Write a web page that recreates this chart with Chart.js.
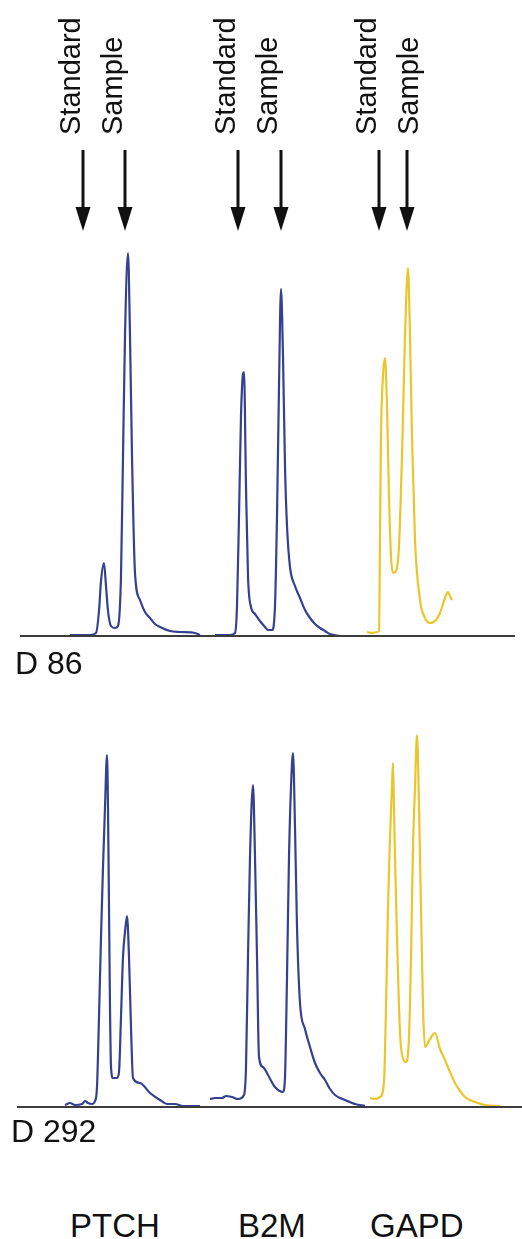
<!DOCTYPE html>
<html>
<head>
<meta charset="utf-8">
<script src="https://cdn.jsdelivr.net/npm/chart.js@4.4.1/dist/chart.umd.min.js"></script>
<style>
  html, body { margin: 0; padding: 0; background: #fff; }
  #page { position: relative; width: 522px; height: 1239px; overflow: hidden; font-family: "Liberation Sans", Arial, sans-serif; color: #111; }
  canvas { position: absolute; left: 0; }
  .lbl { position: absolute; line-height: 1; white-space: nowrap; }
  .rot { position: absolute; line-height: 1; white-space: nowrap; font-size: 29px; transform-origin: 0 0; transform: rotate(-90deg); }
  svg { position: absolute; left: 0; top: 0; }
</style>
</head>
<body>
<div id="page">
  <canvas id="topChart" width="522" height="660" style="top:0;width:522px;height:660px"></canvas>
  <canvas id="botChart" width="522" height="420" style="top:700px;width:522px;height:420px"></canvas>

  <!-- peak labels -->
  <div class="rot" style="left:56px;top:135px">Standard</div>
  <div class="rot" style="left:98px;top:135px">Sample</div>
  <div class="rot" style="left:211px;top:135px">Standard</div>
  <div class="rot" style="left:253px;top:135px">Sample</div>
  <div class="rot" style="left:352px;top:135px">Standard</div>
  <div class="rot" style="left:394px;top:135px">Sample</div>
  <svg id="arrows" width="522" height="260"></svg>

  <div class="lbl" style="left:15px;top:647px;font-size:32px">D 86</div>
  <div class="lbl" style="left:11px;top:1115px;font-size:32px">D 292</div>

  <div class="lbl" style="left:70px;top:1209px;font-size:33px">PTCH</div>
  <div class="lbl" style="left:238px;top:1209px;font-size:33px">B2M</div>
  <div class="lbl" style="left:370px;top:1209px;font-size:33px">GAPD</div>
</div>

<script>
// migration position (x) and signal above baseline (y)
const ptchD86X = [70, 90, 96, 99, 101, 104, 106, 108, 111, 115, 118, 121, 123, 125, 128, 130, 132, 135, 140, 145, 150, 155, 160, 170, 180, 195, 200];
const ptchD86Y = [1, 1, 3, 25, 55, 73, 50, 25, 10, 8, 10, 60, 180, 300, 383, 300, 180, 63, 36, 24, 18, 12, 9, 5, 4, 3, 1];
const b2mD86X = [215, 230, 235, 237, 239, 241, 243, 244, 246, 248, 251, 255, 260, 265, 268, 272, 275, 277, 279, 281, 283, 285, 287, 290, 295, 300, 305, 310, 315, 320, 325, 330, 340];
const b2mD86Y = [1, 1, 3, 30, 120, 220, 262, 264, 150, 60, 29, 22, 15, 9, 6, 6, 30, 120, 250, 347, 280, 170, 110, 69, 50, 38, 26, 18, 12, 8, 5, 2, 0];
const gapdD86X = [367, 372, 377, 379, 380, 381, 383, 385, 387, 389, 391, 393, 396, 399, 402, 405, 408, 410, 412, 415, 420, 425, 430, 436, 440, 445, 448, 450, 452];
const gapdD86Y = [4, 3, 4, 5, 100, 200, 260, 278, 230, 140, 80, 63, 65, 90, 180, 300, 368, 300, 200, 96, 36, 18, 13, 16, 23, 38, 44, 40, 36];

const ptchD292X = [65, 70, 75, 82, 85, 88, 92, 95, 97, 99, 101, 103, 105, 107, 108, 109, 110, 111, 113, 117, 119, 121, 123, 125, 127, 129, 131, 133, 140, 150, 160, 167, 175, 183, 200];
const ptchD292Y = [2, 4, 2, 3, 6, 4, 3, 6, 20, 90, 170, 240, 300, 352, 300, 200, 100, 40, 29, 29, 35, 90, 150, 175, 191, 150, 80, 29, 24, 14, 7, 3, 3, 1, 1];
const b2mD292X = [210, 215, 222, 226, 232, 238, 244, 246, 248, 250, 253, 255, 257, 259, 263, 268, 275, 283, 285, 287, 289, 291, 293, 295, 297, 300, 305, 310, 315, 320, 325, 330, 335, 345, 355, 365];
const b2mD292Y = [8, 9, 9, 11, 10, 8, 12, 40, 150, 250, 322, 250, 150, 50, 40, 32, 20, 15, 30, 130, 250, 320, 354, 280, 180, 104, 78, 60, 44, 34, 27, 18, 12, 7, 3, 1];
const gapdD292X = [370, 375, 380, 384, 386, 388, 390, 392, 393, 394, 395, 397, 399, 401, 406, 409, 411, 413, 415, 417, 419, 421, 423, 425, 430, 435, 440, 445, 450, 455, 460, 465, 470, 478, 485, 500];
const gapdD292Y = [9, 8, 10, 25, 100, 200, 270, 320, 344, 300, 250, 170, 100, 60, 45, 70, 150, 260, 320, 372, 300, 200, 100, 60, 68, 74, 58, 47, 35, 24, 16, 10, 7, 4, 2, 1];

// baseline extent per panel
const baseD86X = [20, 515];
const baseD292X = [17, 522];

// arrows under the Standard / Sample labels
const arrowX = [83, 125, 238, 281, 379, 407];

const BLUE = '#34418f';
const GOLD = '#ebc52c';
const AXIS = '#3c3c3c';

function pts(xs, ys) { return xs.map((x, i) => ({ x: x, y: ys[i] })); }

function trace(xs, ys, color) {
  return {
    data: pts(xs, ys), borderColor: color, borderWidth: 2.2,
    pointRadius: 0, fill: false, cubicInterpolationMode: 'monotone'
  };
}

function baseline(xs) {
  return { data: xs.map(x => ({ x: x, y: 0 })), borderColor: AXIS, borderWidth: 2, pointRadius: 0, fill: false };
}

function makePanel(id, yMin, yMax, sets) {
  new Chart(document.getElementById(id), {
    type: 'line',
    data: { datasets: sets },
    options: {
      responsive: false, animation: false,
      layout: { padding: 0 },
      plugins: { legend: { display: false }, tooltip: { enabled: false } },
      scales: {
        x: { type: 'linear', min: 0, max: 522, display: false },
        y: { min: yMin, max: yMax, display: false }
      }
    }
  });
}

makePanel('topChart', -24, 636, [
  baseline(baseD86X),
  trace(ptchD86X, ptchD86Y, BLUE),
  trace(b2mD86X, b2mD86Y, BLUE),
  trace(gapdD86X, gapdD86Y, GOLD)
]);

makePanel('botChart', -13, 407, [
  baseline(baseD292X),
  trace(ptchD292X, ptchD292Y, BLUE),
  trace(b2mD292X, b2mD292Y, BLUE),
  trace(gapdD292X, gapdD292Y, GOLD)
]);

// arrows
const svg = document.getElementById('arrows');
svg.innerHTML = arrowX.map(x =>
  `<line x1="${x}" y1="150" x2="${x}" y2="212" stroke="#111" stroke-width="3"/>` +
  `<polygon points="${x - 7.5},207 ${x + 7.5},207 ${x},231" fill="#111"/>`
).join('');
</script>
</body>
</html>
